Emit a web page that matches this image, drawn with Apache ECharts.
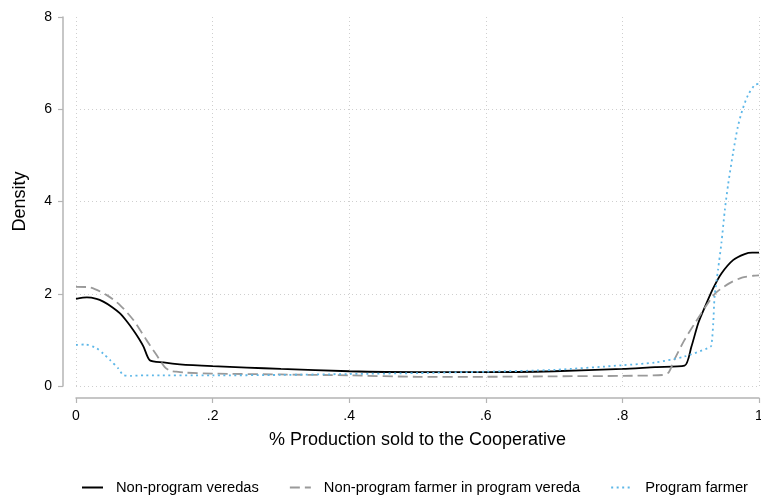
<!DOCTYPE html>
<html>
<head>
<meta charset="utf-8">
<script src="https://cdn.jsdelivr.net/npm/echarts@6/dist/echarts.min.js"></script>
<style>html,body{margin:0;padding:0;background:#fff}#c{width:761px;height:496px}</style>
</head>
<body>
<div id="c"></div>
<script>
const xTickLabels = ['0', '.2', '.4', '.6', '.8', '1'];
const yTicks = [0, 2, 4, 6, 8];

const blackX = [0, 0.016, 0.03, 0.04, 0.052, 0.064, 0.074, 0.084, 0.092, 0.099, 0.108, 0.128, 0.152, 0.2, 0.25, 0.3, 0.4, 0.5, 0.6, 0.7, 0.8, 0.848, 0.891, 0.901, 0.911, 0.921, 0.933, 0.945, 0.962, 0.979, 0.99, 1.0];
const blackY = [1.89, 1.92, 1.89, 1.83, 1.72, 1.58, 1.41, 1.21, 1.03, 0.85, 0.56, 0.51, 0.47, 0.43, 0.40, 0.37, 0.32, 0.30, 0.30, 0.32, 0.37, 0.41, 0.44, 0.85, 1.36, 1.72, 2.12, 2.44, 2.73, 2.86, 2.89, 2.89];

const grayX = [0, 0.02, 0.045, 0.064, 0.084, 0.103, 0.118, 0.13, 0.138, 0.147, 0.16, 0.2, 0.3, 0.4, 0.5, 0.6, 0.7, 0.8, 0.86, 0.868, 0.877, 0.891, 0.906, 0.921, 0.936, 0.957, 0.975, 0.991, 1.0];
const grayY = [2.15, 2.14, 1.97, 1.76, 1.43, 1.00, 0.67, 0.41, 0.33, 0.31, 0.29, 0.27, 0.25, 0.23, 0.20, 0.20, 0.21, 0.22, 0.24, 0.30, 0.60, 1.00, 1.36, 1.70, 2.01, 2.23, 2.35, 2.39, 2.40];

const blueX = [0, 0.013, 0.03, 0.04, 0.05, 0.062, 0.069, 0.08, 0.1, 0.2, 0.3, 0.4, 0.5, 0.6, 0.7, 0.8, 0.848, 0.891, 0.925, 0.93, 0.933, 0.935, 0.94, 0.945, 0.95, 0.955, 0.962, 0.969, 0.976, 0.984, 0.994, 1.0];
const blueY = [0.89, 0.90, 0.82, 0.70, 0.56, 0.38, 0.24, 0.22, 0.23, 0.23, 0.24, 0.26, 0.28, 0.31, 0.35, 0.45, 0.51, 0.64, 0.82, 0.87, 1.36, 1.94, 2.52, 3.10, 3.82, 4.39, 5.05, 5.62, 6.00, 6.31, 6.53, 6.55];

const seriesNames = ['Non-program veredas', 'Non-program farmer in program vereda', 'Program farmer'];

function pairs(xs, ys) { return xs.map((x, i) => [x, ys[i]]); }

const FONT = 'Liberation Sans, Arial, sans-serif';
const axisGray = '#b4b4b4';

const chart = echarts.init(document.getElementById('c'), null, {renderer: 'canvas'});
chart.setOption({
  animation: false,
  textStyle: {fontFamily: FONT},
  grid: {left: 76, right: 2, top: 17, bottom: 110, containLabel: false, outerBoundsMode: 'none'},
  xAxis: {
    type: 'value', min: 0, max: 1, interval: 0.2,
    offset: 12,
    name: '% Production sold to the Cooperative',
    nameLocation: 'middle', nameGap: 33,
    nameTextStyle: {fontSize: 18, color: '#000', fontFamily: FONT},
    axisLine: {show: true, onZero: false, lineStyle: {color: axisGray, width: 1.5}},
    axisTick: {show: true, length: 5, lineStyle: {color: axisGray, width: 1.2}},
    axisLabel: {fontSize: 14, color: '#000', margin: 11, fontFamily: FONT,
      formatter: v => xTickLabels[Math.round(v / 0.2)]},
    splitLine: {show: true, lineStyle: {color: '#cfcfcf', width: 1, type: [1, 3]}}
  },
  yAxis: {
    type: 'value', min: yTicks[0], max: yTicks[yTicks.length - 1], interval: 2,
    offset: 13,
    name: 'Density',
    nameLocation: 'middle', nameGap: 34, nameRotate: 90,
    nameTextStyle: {fontSize: 18, color: '#000', fontFamily: FONT},
    axisLine: {show: true, onZero: false, lineStyle: {color: axisGray, width: 1.5}},
    axisTick: {show: true, length: 5, lineStyle: {color: axisGray, width: 1.2}},
    axisLabel: {fontSize: 14, color: '#000', margin: 11, fontFamily: FONT},
    splitLine: {show: true, showMaxLine: false, lineStyle: {color: '#cfcfcf', width: 1, type: [1, 3]}}
  },
  legend: {
    top: 475, left: 76,
    itemWidth: 21, itemHeight: 10, itemGap: 30,
    itemStyle: {opacity: 0},
    textStyle: {fontSize: 14.7, color: '#000', fontFamily: FONT, padding: [0, 0, 0, 8]},
    data: seriesNames
  },
  series: [
    {name: seriesNames[0], type: 'line', symbol: 'none', smooth: 0.25, data: pairs(blackX, blackY),
      lineStyle: {color: '#000', width: 1.8}, itemStyle: {color: '#000'}},
    {name: seriesNames[1], type: 'line', symbol: 'none', smooth: 0.25, data: pairs(grayX, grayY),
      lineStyle: {color: '#9a9a9a', width: 1.8, type: [10, 5]}, itemStyle: {color: '#9a9a9a'}},
    {name: seriesNames[2], type: 'line', symbol: 'none', smooth: 0.25, data: pairs(blueX, blueY),
      lineStyle: {color: '#5db7e8', width: 1.8, type: [2, 3.5]}, itemStyle: {color: '#5db7e8'}}
  ]
});
</script>
</body>
</html>
